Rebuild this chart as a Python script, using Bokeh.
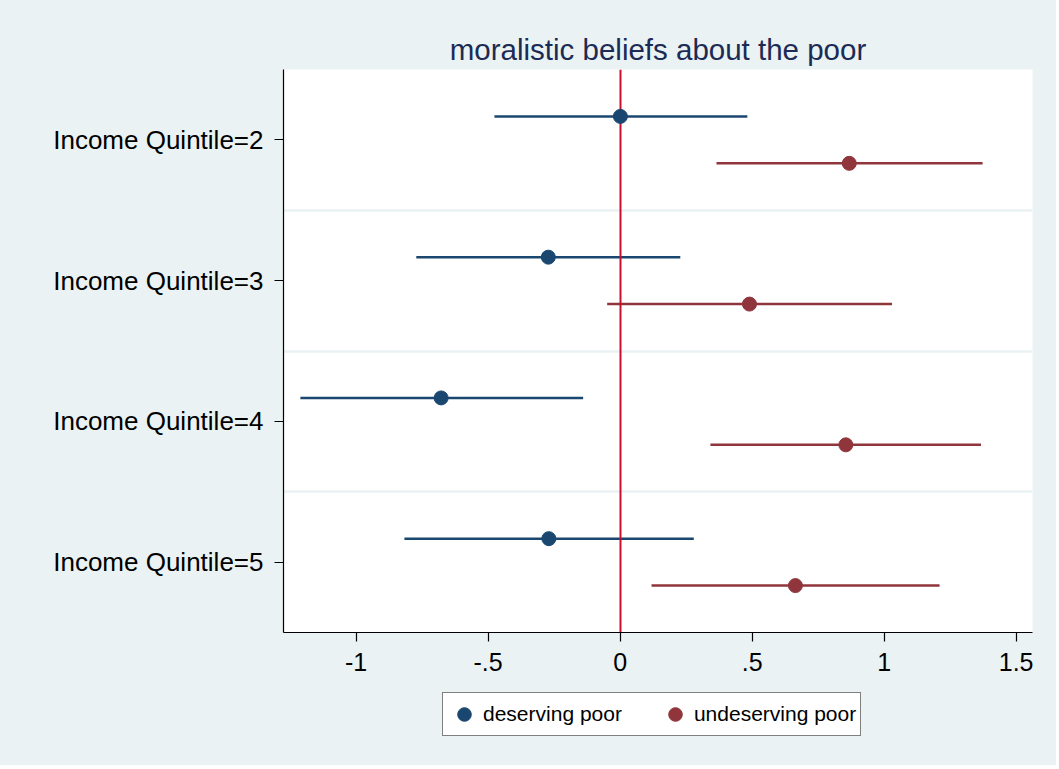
from bokeh.plotting import figure
from bokeh.layouts import column
from bokeh.models import (ColumnDataSource, Range1d, FixedTicker, Legend, LegendItem,
                          CustomJSTickFormatter)
from bokeh.transform import dodge
from bokeh.embed import file_html
from bokeh.resources import INLINE

# ---- data ----
categories = ["Income Quintile=2", "Income Quintile=3", "Income Quintile=4", "Income Quintile=5"]
deserving_est = [0.001, -0.272, -0.678, -0.270]
deserving_lo = [-0.476, -0.772, -1.211, -0.817]
deserving_hi = [0.482, 0.228, -0.140, 0.279]
undeserving_est = [0.868, 0.490, 0.855, 0.664]
undeserving_lo = [0.365, -0.049, 0.342, 0.119]
undeserving_hi = [1.373, 1.030, 1.367, 1.210]
x_ticks = [-1, -0.5, 0, 0.5, 1, 1.5]
series_names = ["deserving poor", "undeserving poor"]
title_text = "moralistic beliefs about the poor"

BLUE = "#1A476F"
RED = "#90353B"
ZERO = "#C8102E"
BG = "#EAF2F3"
FONT = "Liberation Sans"

pos = list(range(1, len(categories) + 1))
src_d = ColumnDataSource(dict(pos=pos, est=deserving_est, lo=deserving_lo, hi=deserving_hi))
src_u = ColumnDataSource(dict(pos=pos, est=undeserving_est, lo=undeserving_lo, hi=undeserving_hi))

p = figure(frame_width=749, frame_height=563, output_backend="svg", toolbar_location=None,
           x_range=Range1d(-1.275, 1.562), y_range=Range1d(len(categories) + 0.5, 0.5),
           min_border_left=283, min_border_right=24, min_border_top=69, min_border_bottom=60)

p.background_fill_color = "white"
p.border_fill_color = BG
p.outline_line_color = None

# title
p.title.text = title_text
p.title.align = "center"
p.title.text_font = FONT
p.title.text_font_size = "29.5px"
p.title.text_font_style = "normal"
p.title.text_color = "#1C2B55"
p.title.standoff = 8

# separators between categories
p.xgrid.visible = False
p.ygrid.ticker = FixedTicker(ticks=[c + 0.5 for c in pos[:-1]])
p.ygrid.grid_line_color = BG
p.ygrid.grid_line_width = 2.5

# CI segments
p.segment(x0="lo", x1="hi", y0=dodge("pos", -1/6), y1=dodge("pos", -1/6),
          source=src_d, line_color=BLUE, line_width=2.5)
p.segment(x0="lo", x1="hi", y0=dodge("pos", 1/6), y1=dodge("pos", 1/6),
          source=src_u, line_color=RED, line_width=2.5)

# zero reference line
p.vspan(x=[0], line_color=ZERO, line_width=2)

# point estimates
p.scatter(x="est", y=dodge("pos", -1/6), source=src_d, size=14,
          fill_color=BLUE, line_color=BLUE)
p.scatter(x="est", y=dodge("pos", 1/6), source=src_u, size=14,
          fill_color=RED, line_color=RED)

# axes
for ax in (p.xaxis[0], p.yaxis[0]):
    ax.axis_line_color = "black"
    ax.axis_line_width = 1.2
    ax.major_tick_line_color = "black"
    ax.major_tick_line_width = 1.2
    ax.major_tick_out = 9
    ax.major_tick_in = 0
    ax.minor_tick_line_color = None
    ax.major_label_text_font = FONT
    ax.major_label_text_color = "black"

p.xaxis.ticker = FixedTicker(ticks=x_ticks)
p.xaxis.formatter = CustomJSTickFormatter(code="""
    let s = tick.toString();
    if (s.startsWith('0.')) s = s.slice(1);
    if (s.startsWith('-0.')) s = '-' + s.slice(2);
    return s;
""")
p.xaxis.major_label_text_font_size = "25px"
p.xaxis.major_label_standoff = 11

p.yaxis.ticker = FixedTicker(ticks=pos)
p.yaxis.major_label_overrides = {k: v for k, v in zip(pos, categories)}
p.yaxis.major_label_text_font_size = "26px"
p.yaxis.major_label_standoff = 11

# ---- legend strip below the chart ----
# (key renderers hold the series data but sit outside this strip's visible range)
leg = figure(frame_width=1056, frame_height=73, output_backend="svg", toolbar_location=None,
             x_range=Range1d(50, 51), y_range=Range1d(50, 51),
             x_axis_location=None, y_axis_location=None,
             min_border_left=0, min_border_right=0, min_border_top=0, min_border_bottom=0)
leg.background_fill_color = BG
leg.border_fill_color = BG
leg.outline_line_color = None
leg.xgrid.visible = False
leg.ygrid.visible = False
k_d = leg.scatter(x="est", y="pos", source=src_d, size=14, fill_color=BLUE, line_color=BLUE)
k_u = leg.scatter(x="est", y="pos", source=src_u, size=14, fill_color=RED, line_color=RED)

legend = Legend(items=[LegendItem(label=series_names[0], renderers=[k_d]),
                       LegendItem(label=series_names[1], renderers=[k_u])],
                orientation="horizontal", location=(442, 29))
legend.label_text_font = FONT
legend.label_text_font_size = "21px"
legend.label_text_color = "black"
legend.label_height = 34
legend.glyph_height = 34
legend.glyph_width = 34
legend.label_standoff = 2
legend.spacing = 36
legend.padding = 4
legend.margin = 0
legend.border_line_color = "black"
legend.border_line_width = 1.2
legend.background_fill_color = "white"
legend.background_fill_alpha = 1
leg.add_layout(legend, "center")

layout = column(p, leg, spacing=0, styles={"background-color": BG})
open("out.html", "w").write(file_html(layout, INLINE))
